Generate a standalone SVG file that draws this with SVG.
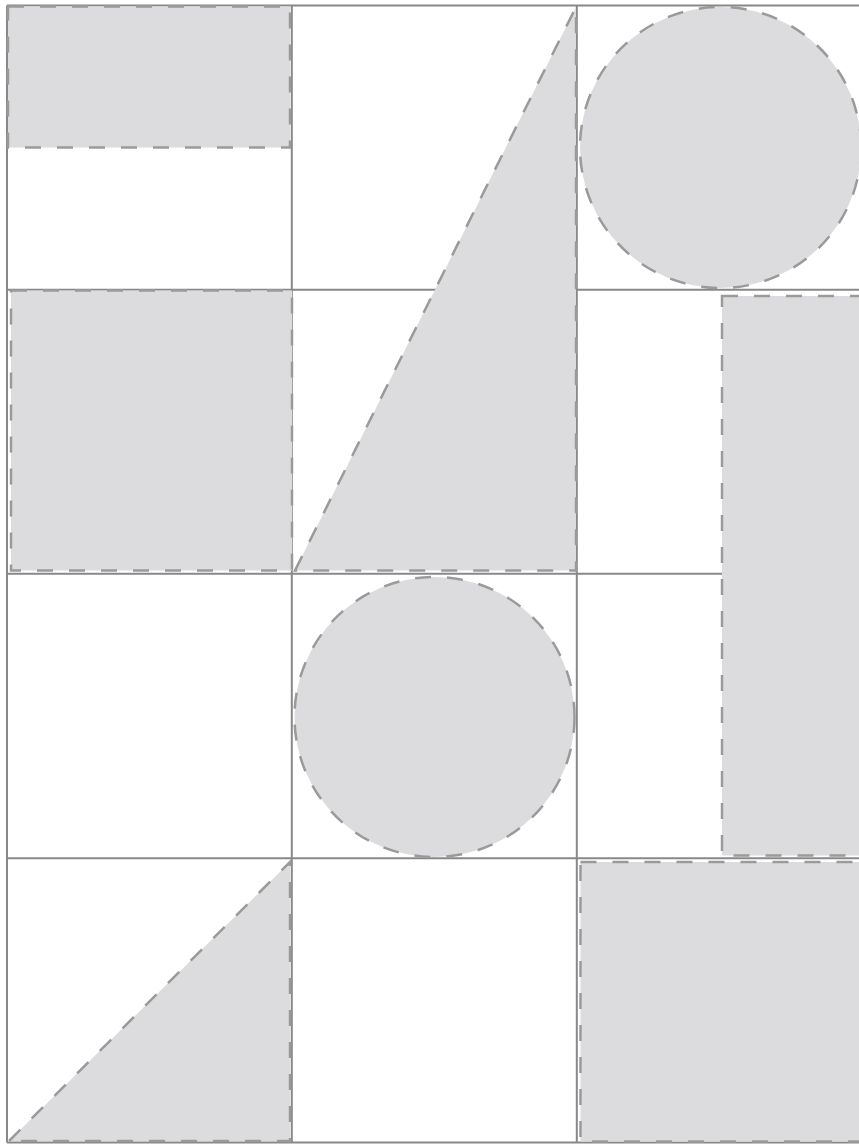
<svg xmlns="http://www.w3.org/2000/svg" width="859" height="1144" viewBox="0 0 859 1144">
<style>
.grid{stroke:#888;stroke-width:2;fill:none}
.shape{fill:#dcdcde;stroke:#9a9a9a;stroke-width:2.5;stroke-dasharray:16 16}
</style>
<rect width="859" height="1144" fill="#fff"/>
<g id="grid" class="grid">
<line x1="7" y1="5.5" x2="859" y2="5.5"/>
<line x1="7" y1="289.8" x2="859" y2="289.8"/>
<line x1="7" y1="573.8" x2="859" y2="573.8"/>
<line x1="7" y1="858.2" x2="859" y2="858.2"/>
<line x1="7" y1="1142.5" x2="859" y2="1142.5"/>
<line x1="7" y1="5.5" x2="7" y2="1142.5"/>
<line x1="291.8" y1="5.5" x2="291.8" y2="1142.5"/>
<line x1="576.8" y1="5.5" x2="576.8" y2="1142.5"/>
</g>
<g id="rect-top-left"><rect class="shape" x="8" y="6.5" width="282" height="141"/></g>
<g id="rect-mid-left"><rect class="shape" x="11" y="290.5" width="281" height="280"/></g>
<g id="triangle-tall"><polygon class="shape" points="295,570.5 576,7 576,570.5"/></g>
<g id="circle-top-right"><circle class="shape" cx="720.5" cy="147.5" r="140.5"/></g>
<g id="rect-tall-right"><rect class="shape" x="722" y="296" width="150" height="559.5"/></g>
<g id="circle-middle"><circle class="shape" cx="434.5" cy="717" r="140"/></g>
<g id="triangle-bottom-left"><polygon class="shape" points="9,1141 290,862 290,1141"/></g>
<g id="rect-bottom-right"><rect class="shape" x="580.5" y="862" width="290" height="279.5"/></g>
</svg>
